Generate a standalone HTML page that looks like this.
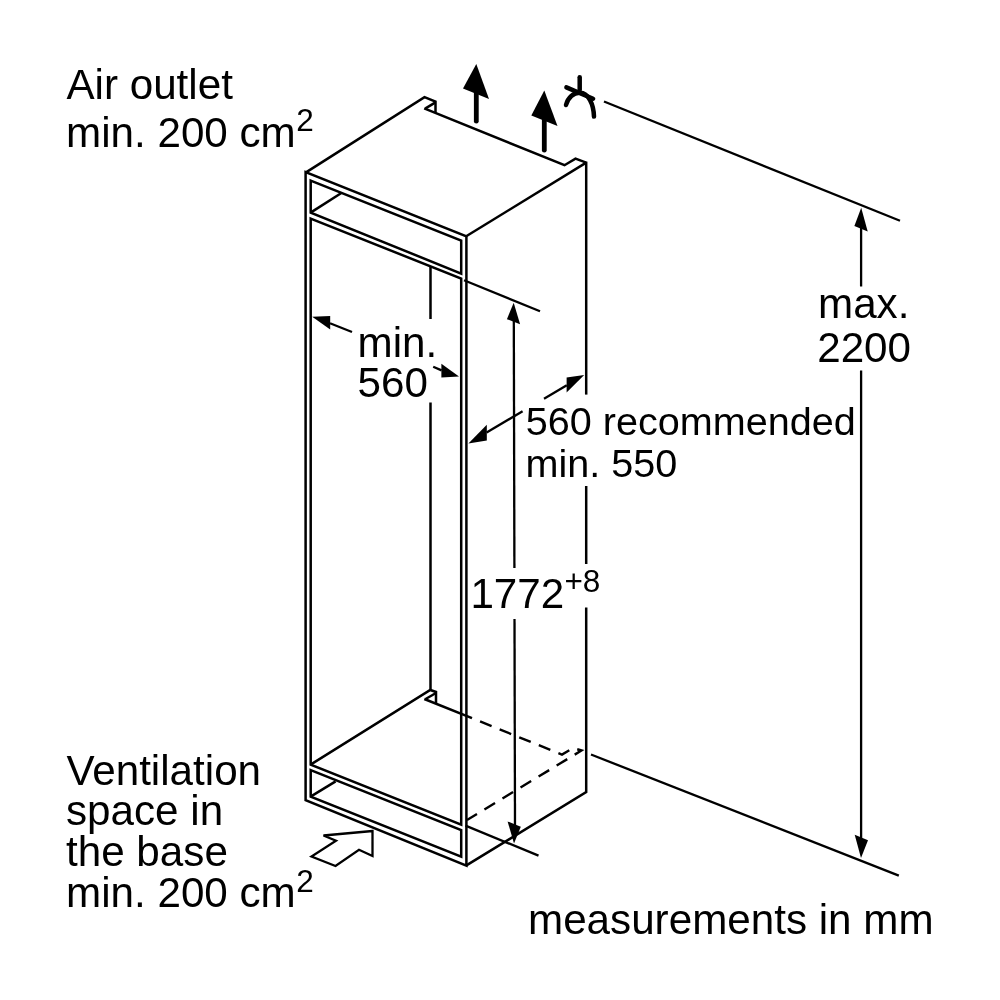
<!DOCTYPE html>
<html lang="en">
<head>
<meta charset="utf-8">
<title>Installation dimensions</title>
<style>
html,body{margin:0;padding:0;background:#fff;}
body{width:1000px;height:1000px;overflow:hidden;}
svg{display:block;will-change:transform;}
text{font-family:"Liberation Sans",Arial,Helvetica,sans-serif;fill:#000;}
.t{font-size:42.2px;}
.m{font-size:39.6px;}
.s{font-size:31.5px;}
.c{fill:none;stroke:#000;stroke-width:2.5;stroke-linejoin:miter;stroke-miterlimit:2;stroke-linecap:butt;}
.d{fill:none;stroke:#000;stroke-width:2.3;stroke-linecap:butt;}
.h{fill:#000;stroke:none;}
.a{fill:none;stroke:#000;stroke-width:4.8;stroke-linecap:round;}
.k{fill:none;stroke:#000;stroke-width:2.4;stroke-dasharray:12.4 8.72;stroke-dashoffset:12.4;stroke-linejoin:miter;}
</style>
</head>
<body>
<svg width="1000" height="1000" viewBox="0 0 1000 1000">
<rect width="1000" height="1000" fill="#fff"/>

<!-- cabinet outline -->
<g class="c">
  <!-- front outer frame -->
  <path d="M305.6,172 L305.6,800.2 L466.4,865.6 L466.4,236.4 Z"/>
  <!-- top face -->
  <path d="M306,172.4 L424.5,97.2 L435.5,101.6 L435.5,112.8"/>
  <path d="M435.5,102.4 L425.5,108.4"/>
  <path d="M424.2,108.4 L564.5,165.2 L575.5,158.6 L586.2,162.6"/>
  <path d="M466.6,236 L586.2,162.6"/>
  <!-- right side -->
  <path d="M586.2,161.6 L586.2,394.6"/>
  <path d="M586.2,486 L586.2,564"/>
  <path d="M586.2,607.6 L586.2,792 L466.4,865.4"/>
  <!-- inner openings -->
  <path d="M310.7,180.6 L461.2,240.6 L461.2,273.6 L310.7,212.6 Z"/>
  <path d="M310.7,218.6 L461.2,278.6 L461.2,824.6 L310.7,764.6 Z"/>
  <path d="M310.7,770.2 L461.2,830 L461.2,856.6 L310.7,796.6 Z"/>
  <!-- interior edges -->
  <path d="M311,212.4 L341,193.2"/>
  <path d="M430.5,266 L430.5,319"/>
  <path d="M430.5,402.4 L430.5,690.6"/>
  <path d="M311,764.4 L430.3,690 L436,692 L436,703.4"/>
  <path d="M436,693 L425.6,699"/>
  <path d="M424.3,699 L472,718.2"/>
  <path d="M311,796.4 L335.6,781.4"/>
</g>
<!-- hidden edges -->
<path class="k" d="M472,718.2 L562,754.6 L573,748 L581.5,750.5 L467,820"/>

<!-- dimension lines -->
<g class="d">
  <path d="M464,280.2 L540,311.2"/>
  <path d="M465.5,825.6 L538.5,855.6"/>
  <path d="M513.8,318 L514.4,568"/>
  <path d="M514.5,619 L515,826"/>
  <path d="M604,101.5 L900,220.8"/>
  <path d="M591,754.5 L898.8,875.6"/>
  <path d="M861.1,226 L861.1,286.5"/>
  <path d="M861.1,370.5 L861.1,838"/>
  <path d="M330,323.2 L352,332"/>
  <path d="M433.2,366.8 L441.6,370.4"/>
  <path d="M544,398.8 L566.8,385.2"/>
  <path d="M522.6,411.2 L486.6,432.4"/>
</g>
<g class="h">
  <path d="M513.7,302.8 L506.9,319.2 L520.1,324.2 Z"/>
  <path d="M514,843.4 L507.6,821.4 L520.8,826.8 Z"/>
  <path d="M861.2,207.8 L854.4,226 L867.7,231.6 Z"/>
  <path d="M861,858 L854.7,834.8 L868,840.2 Z"/>
  <path d="M312.2,316.8 L330.2,316 L330.2,329.6 Z"/>
  <path d="M459,376.4 L441.4,363.8 L441.4,377.6 Z"/>
  <path d="M584.2,375 L566.6,377.4 L566.6,392.4 Z"/>
  <path d="M468.4,443.6 L486.8,424.8 L486.8,440.4 Z"/>
</g>

<!-- air outlet arrows -->
<g>
  <path class="a" d="M476.3,121.2 L476.3,90"/>
  <path class="h" d="M476.3,64 L463,88.5 L489,99 Z"/>
  <path class="a" d="M544.3,150.2 L544.3,118"/>
  <path class="h" d="M544.3,90.5 L531.3,115.5 L557.5,126 Z"/>
</g>
<!-- break symbol -->
<g class="a" style="stroke-width:4.5">
  <path d="M579.7,77.2 L579.7,90"/>
  <path d="M566.4,87.4 L593.1,98.7"/>
  <path d="M566,105 C568,97.5 573.5,92.6 580,92.8 C588.5,93 593.6,104 594,116.6"/>
</g>
<!-- ventilation arrow -->
<path class="d" style="stroke-width:2.3;stroke-linejoin:miter" d="M372.5,831 L323.5,835.5 L336,840.8 L311.5,856.5 L335.5,866 L359,849.7 L372.5,856 Z"/>

<!-- labels -->
<g>
<text class="t" x="66.4" y="99">Air outlet</text>
<text class="t" x="66" y="146.8">min. 200 cm</text>
<text class="s" x="296.3" y="131.2">2</text>

<text class="t" x="66.4" y="785">Ventilation</text>
<text class="t" x="66" y="825">space in</text>
<text class="t" x="66" y="865.5">the base</text>
<text class="t" x="66" y="906.6">min. 200 cm</text>
<text class="s" x="296.3" y="892">2</text>

<text class="t" x="357.5" y="357">min.</text>
<text class="t" x="357.5" y="397.4">560</text>

<text class="m" x="525.8" y="435.3">560 recommended</text>
<text class="m" x="525.5" y="477.3">min. 550</text>

<text class="t" x="470.4" y="608.4">1772</text>
<text class="s" x="564.4" y="592.2">+8</text>

<text class="t" x="818" y="318.1">max.</text>
<text class="t" x="817.2" y="361.5">2200</text>

<text class="t" x="528" y="934">measurements in mm</text>
</g>
</svg>
</body>
</html>
